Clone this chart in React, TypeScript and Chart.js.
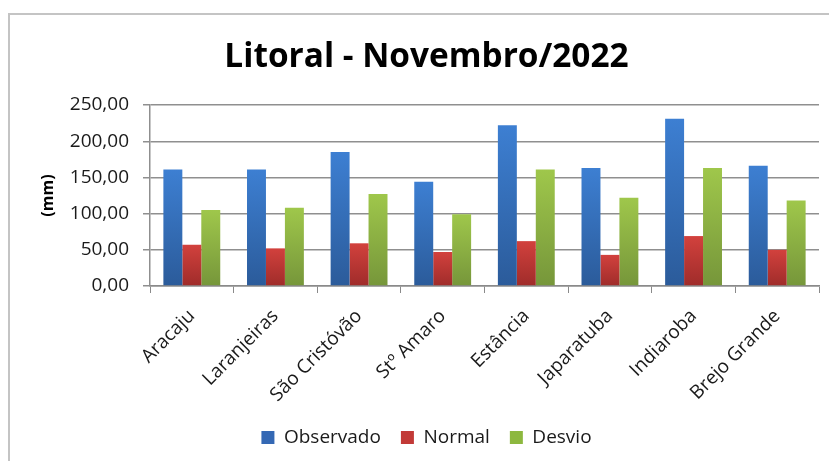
import React, { useEffect, useRef } from "react";
import { Chart, registerables } from "chart.js";

Chart.register(...registerables);

const categories = [
  "Aracaju",
  "Laranjeiras",
  "São Cristóvão",
  "Stº Amaro",
  "Estância",
  "Japaratuba",
  "Indiaroba",
  "Brejo Grande",
];
const observado = [161, 161, 185, 144, 222, 163, 231, 166];
const normal = [57, 52, 59, 47, 62, 43, 69, 50];
const desvio = [105, 108, 127, 99, 161, 122, 163, 118];
const seriesNames = ["Observado", "Normal", "Desvio"];
const yMin = 0;
const yMax = 250;
const yStep = 50;

const FONT = "'Open Sans', 'Noto Sans', sans-serif";
const PAD_LEFT = 34;

const barGradient = (top: string, bottom: string) => (c: any) => {
  const chart = c.chart;
  const y = chart.scales && chart.scales.y;
  if (!y || c.raw == null || !chart.chartArea) return top;
  const y0 = y.getPixelForValue(c.raw);
  const y1 = y.getPixelForValue(0);
  if (!isFinite(y0) || !isFinite(y1) || y0 === y1) return top;
  const g = chart.ctx.createLinearGradient(0, y0, 0, y1);
  g.addColorStop(0, top);
  g.addColorStop(1, bottom);
  return g;
};

const legendColors = ["#3468b4", "#c23a37", "#8db83f"];

const framePlugin = {
  id: "frame",
  beforeDraw(chart: any) {
    const ctx = chart.ctx;
    ctx.save();
    ctx.fillStyle = "#ffffff";
    ctx.fillRect(0, 0, chart.width, chart.height);
    ctx.strokeStyle = "#c4c4c4";
    ctx.lineWidth = 2;
    ctx.strokeRect(9, 14, chart.width + 20, chart.height + 20);
    ctx.restore();
  },
};

export default function App() {
  const ref = useRef<HTMLCanvasElement | null>(null);

  useEffect(() => {
    if (!ref.current) return;
    const chart = new Chart(ref.current, {
      type: "bar",
      data: {
        labels: categories,
        datasets: [
          {
            label: seriesNames[0],
            data: observado,
            backgroundColor: barGradient("#3d7fd2", "#2b5b9a"),
          },
          {
            label: seriesNames[1],
            data: normal,
            backgroundColor: barGradient("#d2413d", "#9f2c2a"),
          },
          {
            label: seriesNames[2],
            data: desvio,
            backgroundColor: barGradient("#9fc74b", "#76963a"),
          },
        ],
      },
      options: {
        responsive: false,
        animation: false,
        datasets: {
          bar: {
            categoryPercentage: 0.68,
            barPercentage: 1,
            borderWidth: 0,
          },
        },
        layout: { padding: { left: PAD_LEFT, right: 10, top: 0, bottom: 4 } },
        plugins: {
          title: {
            display: true,
            text: "Litoral - Novembro/2022",
            color: "#000000",
            font: { family: FONT, size: 33.4, weight: "bold" },
            padding: { top: 37, bottom: 28 },
          },
          legend: {
            position: "bottom",
            labels: {
              color: "#1a1a1a",
              font: { family: FONT, size: 19 },
              boxWidth: 13,
              boxHeight: 13,
              padding: 20,
              generateLabels: (chart: any) =>
                chart.data.datasets.map((ds: any, i: number) => ({
                  text: ds.label,
                  fillStyle: legendColors[i],
                  strokeStyle: legendColors[i],
                  lineWidth: 0,
                  hidden: false,
                  datasetIndex: i,
                  fontColor: "#1a1a1a",
                })),
            },
          },
          tooltip: { enabled: false },
        },
        scales: {
          x: {
            grid: {
              display: true,
              drawOnChartArea: false,
              drawTicks: true,
              tickLength: 7,
              color: "#8a8a8a",
              offset: true,
            },
            border: { color: "#8a8a8a", width: 1.5 },
            ticks: {
              minRotation: 45,
              maxRotation: 45,
              color: "#1a1a1a",
              font: { family: FONT, size: 19 },
              padding: 12,
            },
            afterFit: (s: any) => {
              s.height = 122;
            },
          },
          y: {
            min: yMin,
            max: yMax,
            ticks: {
              stepSize: yStep,
              color: "#1a1a1a",
              font: { family: FONT, size: 19 },
              padding: 14,
              callback: (v: any) => Number(v).toFixed(2).replace(".", ","),
            },
            grid: { color: "#8f8f8f", lineWidth: 1.5, tickLength: 7 },
            border: { color: "#8f8f8f", width: 1.5 },
            title: {
              display: true,
              text: "(mm)",
              color: "#000000",
              font: { family: FONT, size: 16, weight: "bold" },
              padding: { top: 48 - PAD_LEFT - 9.6, bottom: 0 },
            },
            afterFit: (s: any) => {
              s.width = 150 - PAD_LEFT;
            },
          },
        },
      },
      plugins: [framePlugin],
    } as any);
    return () => chart.destroy();
  }, []);

  return (
    <div style={{ position: "absolute", left: 0, top: 0, width: 829, height: 461 }}>
      <canvas ref={ref} width={829} height={461} style={{ display: "block" }} />
    </div>
  );
}
